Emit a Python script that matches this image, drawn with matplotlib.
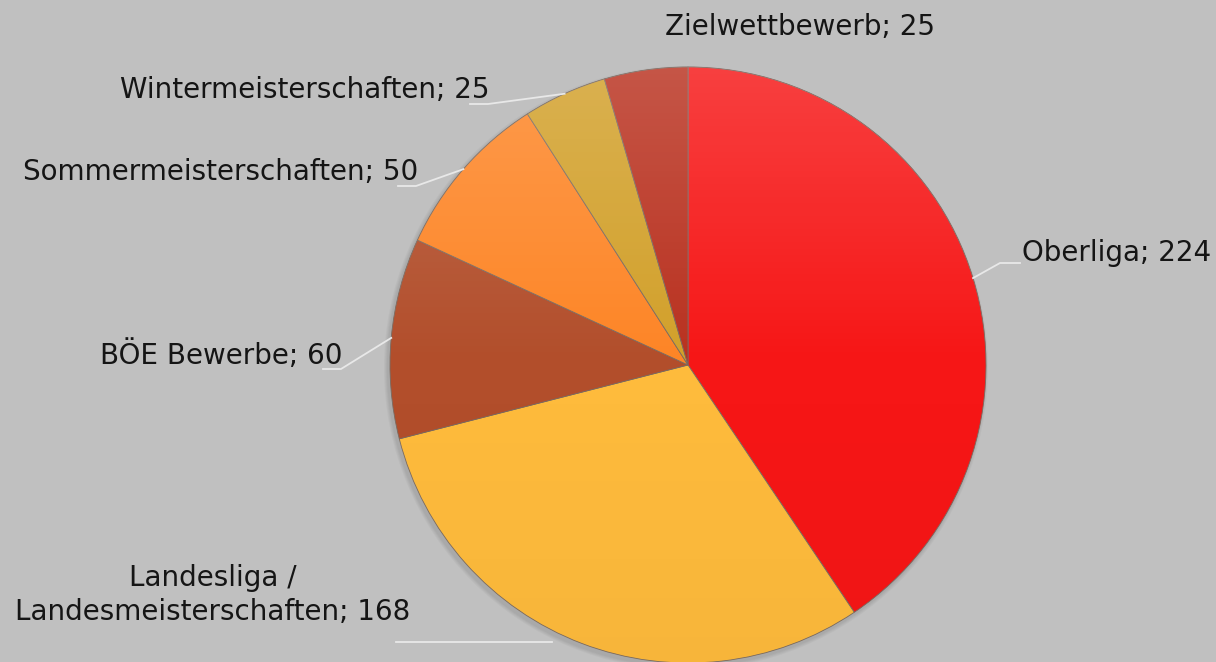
import numpy as np
import matplotlib
matplotlib.use("Agg")
import matplotlib.pyplot as plt

categories = ["Oberliga", "Landesliga /\nLandesmeisterschaften", "BÖE Bewerbe",
              "Sommermeisterschaften", "Wintermeisterschaften", "Zielwettbewerb"]
values = [224, 168, 60, 50, 25, 25]
colors = ["#f61616", "#febb3c", "#b24e2b", "#fd8526", "#d2a02a", "#b9311f"]

# label layout (text anchor in pixels, alignment)
label_pos = [(1022, 253, "left"), (213, 595, "center"), (343, 355, "right"),
             (418, 172, "right"), (490, 90, "right"), (800, 27, "center")]

W, H = 1216, 662
cx, cy, r = 688, H - 365, 298

fig = plt.figure(figsize=(W / 100, H / 100), dpi=100)
fig.patch.set_facecolor("#c0c0c0")
ax = fig.add_axes([0, 0, 1, 1])

# soft shadow
for k in range(4):
    ax.add_patch(plt.Circle((cx - 2, cy - 3), r + 4 - k, color="#505050", alpha=0.05, lw=0))

wedges, _ = ax.pie(values, colors=colors, startangle=90, counterclock=False,
                   center=(cx, cy), radius=r, frame=True,
                   wedgeprops=dict(edgecolor="#7a6a60", linewidth=0.6))
ax.set_xlim(0, W)
ax.set_ylim(0, H)
ax.set_aspect("equal")
ax.axis("off")

# vertical light-to-dark gradient over the pie
grad = np.linspace(1, 0, 256)
img = np.zeros((256, 1, 4))
img[:, 0, :3] = np.where(grad > 0.5, 1.0, 0.0)[:, None]
img[:, 0, 3] = np.where(grad > 0.5, (grad - 0.5) * 0.36, (0.5 - grad) * 0.06)
im = ax.imshow(img, extent=(cx - r, cx + r, cy - r, cy + r), aspect="auto",
               interpolation="bilinear", zorder=3)
im.set_clip_path(plt.Circle((cx, cy), r, transform=ax.transData))
ax.set_xlim(0, W)
ax.set_ylim(0, H)

for w, lab, v, (tx, ty, ha) in zip(wedges, categories, values, label_pos):
    ang = np.deg2rad((w.theta1 + w.theta2) / 2)
    ex, ey = cx + r * np.cos(ang), cy + r * np.sin(ang)
    ty_d = H - ty
    ax.text(tx, ty_d, f"{lab}; {v}", ha=ha, va="center", fontsize=20,
            color="#151515", family="DejaVu Sans", zorder=5, linespacing=1.3)
    if lab == "Zielwettbewerb":
        continue
    if ha == "left":
        ly = ty_d - 10
        pts = [(ex, ey), (tx - 22, ly), (tx - 2, ly)]
    elif ha == "right":
        ly = ty_d - 14
        pts = [(ex, ey), (tx - 2, ly), (tx - 20, ly)]
    else:
        pts = [(ex - 30, ey + 1), (396, ey + 1)]
    xs, ys = zip(*pts)
    ax.plot(xs, ys, color="#e8e8e8", lw=1.3, zorder=4)

fig.savefig("out.png", dpi=100, facecolor=fig.get_facecolor())
